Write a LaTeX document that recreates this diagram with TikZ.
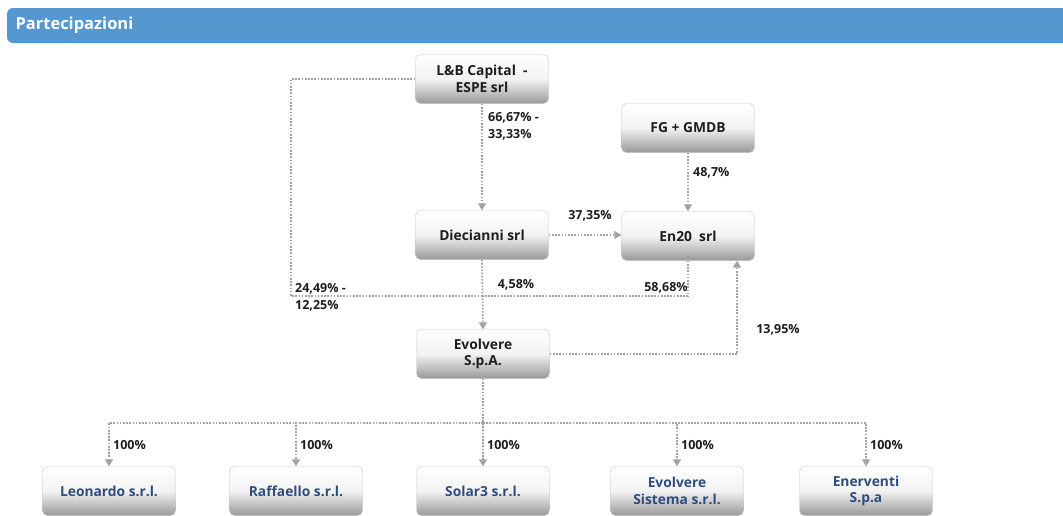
\documentclass[tikz,border=0pt]{standalone}
\usepackage{fontspec}
\setmainfont{Open Sans}
\usepackage{tikz}
\usetikzlibrary{arrows.meta}
\usepackage{xcolor}

\definecolor{barblue}{HTML}{5597CF}
\definecolor{linkgray}{HTML}{A3A3A3}
\definecolor{subblue}{HTML}{2E4D7E}
\definecolor{txtdark}{HTML}{1E1E1E}

\tikzset{
    entity/.style={draw=black!22, rounded corners=5pt, top color=white, bottom color=black!40, middle color=black!5,
        minimum width=133pt, minimum height=49pt, inner sep=2pt, align=center, text=txtdark,
        font=\bfseries\fontsize{13.8}{16.5}\selectfont},
    subsid/.style={entity, text=subblue},
    link/.style={draw=linkgray, line width=1.7pt, dash pattern=on 1.7pt off 1.5pt},
    feed/.style={-{Triangle[width=8pt,length=7pt]}},
    share/.style={inner sep=1pt, align=left, text=txtdark, font=\bfseries\fontsize{12.5}{17}\selectfont},
}

\begin{document}
\begin{tikzpicture}[x=1pt, y=-1pt]
        \useasboundingbox (0,0) rectangle (1063,515);
        \fill[white] (0,0) rectangle (1063,515);

        % title bar
        \fill[barblue, rounded corners=6pt] (7,8) rectangle (1075,43);
        \node[anchor=west, text=white, font=\bfseries\fontsize{16.5}{18}\selectfont] (title) at (12,25) {Partecipazioni};

        % companies
        \node[entity] (lb)    at (482,79)  {L\&B Capital \ -\\ESPE srl};
        \node[entity] (fg)    at (688,128) {FG + GMDB};
        \node[entity] (dieci) at (482,235) {Diecianni srl};
        \node[entity] (en20)  at (688,236) {En20 \ srl};
        \node[entity] (evo)   at (483,354) {Evolvere\\S.p.A.};

        \node[subsid] (leo)   at (109,491) {Leonardo s.r.l.};
        \node[subsid] (raf)   at (296,491) {Raffaello s.r.l.};
        \node[subsid] (sol)   at (483,491) {Solar3 s.r.l.};
        \node[subsid] (evsis) at (677,491) {Evolvere\\Sistema s.r.l.};
        \node[subsid] (ener)  at (866,491) {Enerventi\\S.p.a};

        \coordinate (lfork) at (291,296);
        \coordinate (join)  at (483,296);
        \coordinate (rfork) at (688,296);
        \coordinate (bus)   at (483,423);

        % shareholdings
        \draw[link] (lb.west) -| (lfork) -- (join);
        \draw[link] (en20.south) -- (rfork) -- (join);
        \draw[link,feed] (lb.south) -- (dieci.north);
        \draw[link,feed] (dieci.south) -- (evo.north);
        \draw[link,feed] (dieci.east) -- (dieci.east -| en20.west);
        \draw[link,feed] (fg.south) -- (en20.north);
        \draw[link,feed] (evo.east) -| ([xshift=49pt]en20.south);
        \draw[link] (evo.south) -- (bus);
        \foreach \n in {leo,raf,sol,evsis,ener}
            \draw[link,feed] (bus) -| (\n.north);

        \node[share, anchor=north west] (lbpct) at (487,111) {66,67\% -\\33,33\%};
        \node[share, anchor=west] (fgpct)  at (692,173) {48,7\%};
        \node[share] (diecipct)            at (590,216) {37,35\%};
        \node[share, anchor=west] (lbevo)  at (294,297) {24,49\% -\\12,25\%};
        \node[share] (dievo)               at (516,285) {4,58\%};
        \node[share] (enevo)               at (666,288) {58,68\%};
        \node[share] (evoen)               at (778,330) {13,95\%};
        \foreach \n in {leo,raf,sol,evsis,ener}
            \node[share, anchor=west] (\n pct) at ([xshift=3pt,yshift=21pt]\n.north) {100\%};
\end{tikzpicture}
\end{document}
